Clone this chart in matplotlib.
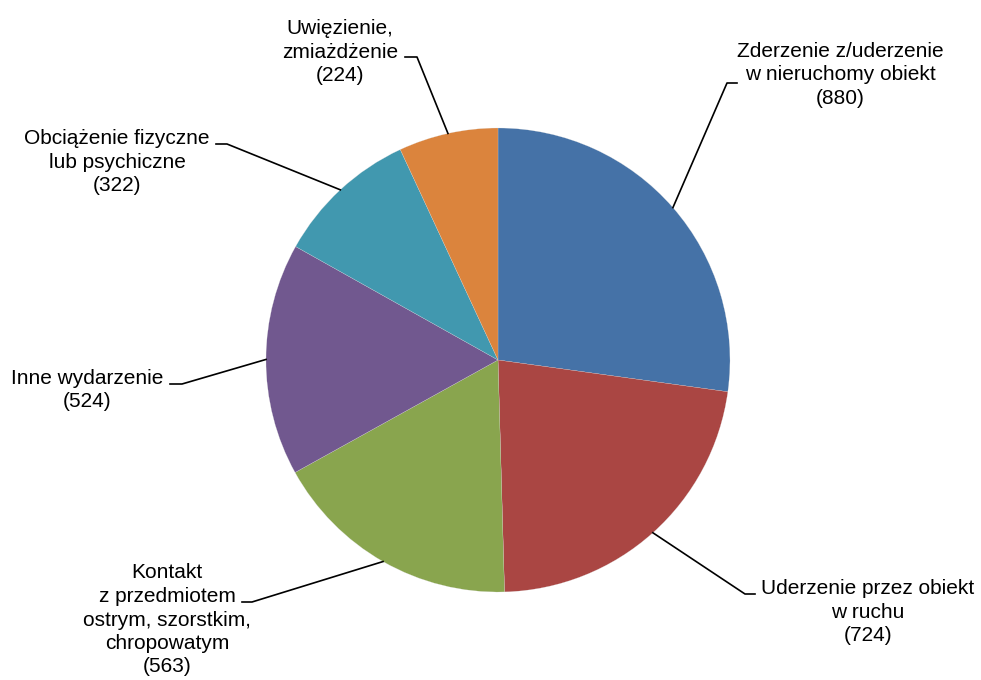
import numpy as np
import matplotlib.pyplot as plt

plt.rcParams['font.family'] = ['Liberation Sans', 'DejaVu Sans']

#%% data
labels = ['Zderzenie z/uderzenie\nw nieruchomy obiekt',
          'Uderzenie przez obiekt\nw ruchu',
          'Kontakt\nz przedmiotem\nostrym, szorstkim,\nchropowatym',
          'Inne wydarzenie',
          'Obciążenie fizyczne\nlub psychiczne',
          'Uwięzienie,\nzmiażdżenie']
values = [880, 724, 563, 524, 322, 224]
colors = ['#4572A7', '#AA4643', '#89A54E', '#71588F', '#4198AF', '#DB843D']

# label layout in pixels (text centre, elbow point, horizontal stub end)
text_pos = [(840, 75), (868, 612), (167, 620), (87, 390), (117, 162), (340, 52)]
elbow = [(727, 83), (745, 594), (252, 602), (182, 384), (227, 144), (417, 57)]
stub = [(737, 83), (755, 594), (242, 602), (170, 384), (216, 144), (405, 57)]

W, H = 981, 680
fig = plt.figure(figsize=(W / 100, H / 100), dpi=100)
ax = fig.add_axes([0, 0, 1, 1])

cx, cy, r = 498, H - 360, 232
wedges, _ = ax.pie(values, colors=colors, startangle=90, counterclock=False,
                   center=(cx, cy), radius=r, frame=True,
                   wedgeprops=dict(linewidth=0.15, edgecolor='#dddddd'))
ax.set_xlim(0, W)
ax.set_ylim(0, H)
ax.axis('off')

for i, w in enumerate(wedges):
    ang = np.deg2rad((w.theta1 + w.theta2) / 2)
    px, py = cx + r * np.cos(ang), cy + r * np.sin(ang)
    ex, ey = elbow[i]
    sx, sy = stub[i]
    ax.plot([px, ex, sx], [py, H - ey, H - sy], color='black', lw=1.2)
    tx, ty = text_pos[i]
    ax.text(tx, H - ty, f'{labels[i]}\n({values[i]})', ha='center', va='center',
            fontsize=15, linespacing=1.3, multialignment='center')

plt.savefig('out.png', dpi=100)
